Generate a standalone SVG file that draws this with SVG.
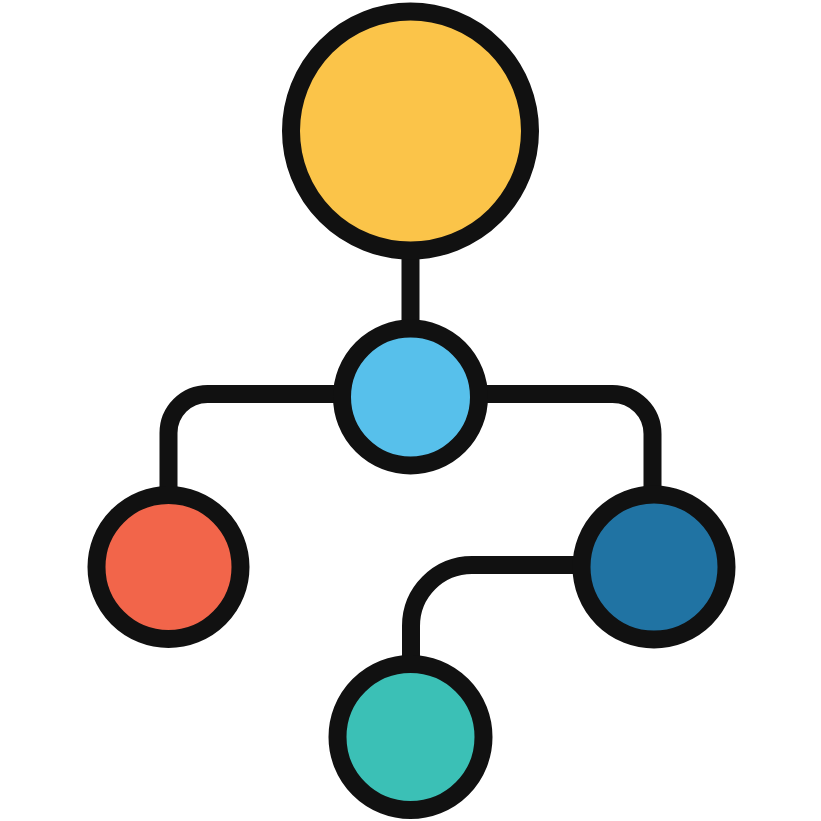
<svg xmlns="http://www.w3.org/2000/svg" width="821" height="821" viewBox="0 0 821 821">
<style>
.c{fill:none;stroke:#111111;stroke-width:18;stroke-linecap:butt;stroke-linejoin:round}
.n{stroke:#111111;stroke-width:18}
</style>
<rect width="821" height="821" fill="#ffffff"/>
<g id="connectors">
<path class="c" d="M410.5 250 V335"/>
<path class="c" d="M345 394 H207.5 A39 39 0 0 0 168.5 433 V500"/>
<path class="c" d="M475 394 H612.5 A40 40 0 0 1 652.5 434 V500"/>
<path class="c" d="M585 565 H472 A61 61 0 0 0 411 626 V668"/>
</g>
<g id="node-root"><circle class="n" cx="410.5" cy="131" r="119.5" fill="#FBC449"/></g>
<g id="node-middle"><circle class="n" cx="410.5" cy="397" r="68.5" fill="#57C0EB"/></g>
<g id="node-left"><circle class="n" cx="168.5" cy="567" r="72" fill="#F2654A"/></g>
<g id="node-right"><circle class="n" cx="654" cy="567" r="72.5" fill="#2073A3"/></g>
<g id="node-bottom"><circle class="n" cx="410.5" cy="737" r="73" fill="#3BC0B6"/></g>
</svg>
